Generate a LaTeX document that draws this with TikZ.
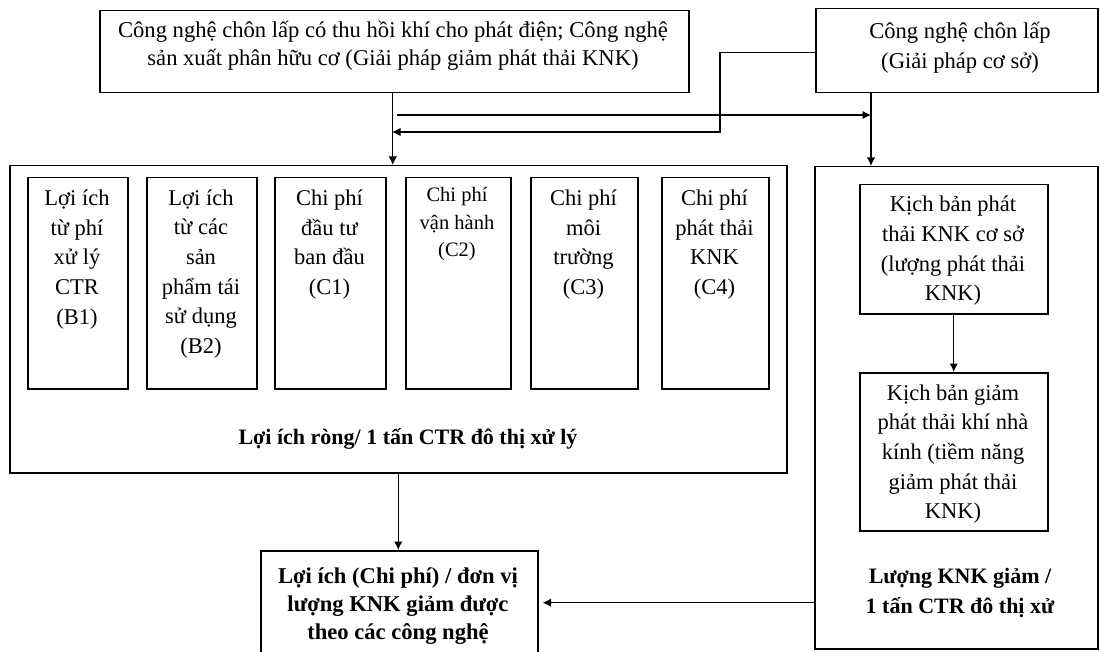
\documentclass[tikz,border=0pt]{standalone}
\usepackage{fontspec}
\setmainfont{Liberation Serif}
\usetikzlibrary{arrows.meta}
\begin{document}
\begin{tikzpicture}[x=1pt,y=-1pt,
  box/.style={draw, line width=1.5pt, inner sep=0pt, anchor=north west},
  txt/.style={align=center, inner sep=0pt, font=\fontsize{22.5}{29.7}\selectfont},
  small/.style={align=center, inner sep=0pt, font=\fontsize{20.5}{27.5}\selectfont},
  btxt/.style={align=center, inner sep=0pt, font=\bfseries\fontsize{22}{29}\selectfont},
  arr/.style={line width=1.4pt, -{Latex[length=8.5pt,width=8.5pt]}}
]
\useasboundingbox (0,0) rectangle (1100,652);
% top boxes
\node[box, minimum width=589pt, minimum height=82pt] (tl) at (99,10) {};
\node[txt, font=\fontsize{22.6}{28}\selectfont] (tltext) at (393,46) {Công nghệ chôn lấp có thu hồi khí cho phát điện; Công nghệ\\sản xuất phân hữu cơ (Giải pháp giảm phát thải KNK)};
\node[box, minimum width=282pt, minimum height=84pt] (tr) at (815,8) {};
\node[txt, font=\fontsize{22.6}{30}\selectfont] (trtext) at (960,48) {Công nghệ chôn lấp\\(Giải pháp cơ sở)};
% left big box
\node[box, minimum width=777pt, minimum height=307pt] (L) at (9,165) {};
\node[box, minimum width=100pt, minimum height=211pt] (b1) at (27,177) {};
\node[box, minimum width=110pt, minimum height=211pt] (b2) at (146,177) {};
\node[box, minimum width=111pt, minimum height=211pt] (b3) at (274,177) {};
\node[box, minimum width=105pt, minimum height=211pt] (b4) at (405,177) {};
\node[box, minimum width=107pt, minimum height=211pt] (b5) at (530,177) {};
\node[box, minimum width=107pt, minimum height=211pt] (b6) at (661,177) {};
\node[txt] (t1) at (77,259.5) {Lợi ích\\từ phí\\xử lý\\CTR\\(B1)};
\node[txt] (t2) at (201,274) {Lợi ích\\từ các\\sản\\phẩm tái\\sử dụng\\(B2)};
\node[txt] (t3) at (329.5,244.5) {Chi phí\\đầu tư\\ban đầu\\(C1)};
\node[small] (t4) at (457,224.5) {Chi phí\\vận hành\\(C2)};
\node[txt] (t5) at (583.5,244.5) {Chi phí\\môi\\trường\\(C3)};
\node[txt] (t6) at (714.5,244.5) {Chi phí\\phát thải\\KNK\\(C4)};
\node[btxt] (lbl) at (408,439) {Lợi ích ròng/ 1 tấn CTR đô thị xử lý};
% right big box
\node[box, minimum width=283pt, minimum height=482pt] (R) at (814,166) {};
\node[box, minimum width=188pt, minimum height=129pt] (A) at (859,184) {};
\node[box, minimum width=188pt, minimum height=158pt] (Bb) at (859,372) {};
\node[txt] (ta) at (953,251) {Kịch bản phát\\thải KNK cơ sở\\(lượng phát thải\\KNK)};
\node[txt] (tb) at (953,454) {Kịch bản giảm\\phát thải khí nhà\\kính (tiềm năng\\giảm phát thải\\KNK)};
\node[btxt, font=\bfseries\fontsize{22}{30}\selectfont] (rl) at (960,593) {Lượng KNK giảm /\\1 tấn CTR đô thị xử};
% bottom box
\node[box, minimum width=277pt, minimum height=104pt] (bot) at (260,550) {};
\node[btxt, font=\bfseries\fontsize{22.6}{28}\selectfont] (bt) at (398,606) {Lợi ích (Chi phí) / đơn vị\\lượng KNK giảm được\\theo các công nghệ};
% connectors
\coordinate (trd) at ([xshift=56pt]tr.south west);
\coordinate (j1) at (397,115);
\coordinate (k1) at (720,132);
\coordinate (k2) at (392,132);
\draw[arr] ([xshift=-1.5pt]tl.south) -- ([xshift=-1.5pt]tl.south |- L.north);
\draw[arr] (trd) -- (trd |- R.north);
\draw[arr] (j1) -- (j1 -| trd);
\draw[arr] ([yshift=-2pt]tr.west) -| (k1) -- (k2);
\draw[arr] (L.south) -- (L.south |- bot.north);
\draw[arr] (A.south) -- (Bb.north);
\draw[arr] (bot.east -| R.west) -- ([xshift=4pt]bot.east);
\end{tikzpicture}
\end{document}
